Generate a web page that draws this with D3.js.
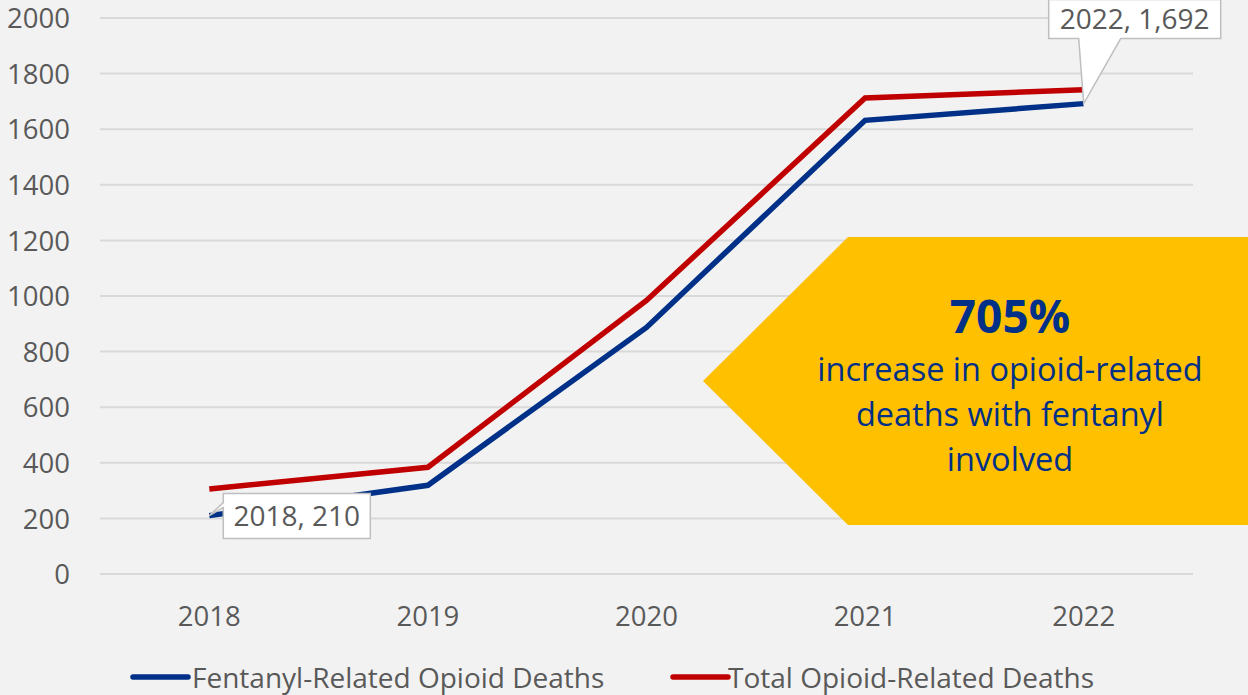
<!DOCTYPE html>
<html><head><meta charset="utf-8">
<script src="https://cdn.jsdelivr.net/npm/d3@7"></script>
<style>html,body{margin:0;padding:0;background:#f2f2f2;}svg{display:block;}</style>
</head><body>
<svg id="c" width="1248" height="695"></svg>
<script>
const years = ["2018","2019","2020","2021","2022"];
const fentanyl = [210, 319, 887, 1632, 1692];
const total = [306, 384, 984, 1712, 1742];
const yTicks = [0,200,400,600,800,1000,1200,1400,1600,1800,2000];
const seriesNames = ["Fentanyl-Related Opioid Deaths","Total Opioid-Related Deaths"];
const seriesColors = ["#003087","#C00000"];
const calloutBig = "705%";
const calloutLines = ["increase in opioid-related","deaths with fentanyl","involved"];

const svg = d3.select("#c");
const W = 1248, H = 695;
const FONT = "'Open Sans', sans-serif";
const TXT = "#595959";
svg.append("rect").attr("width",W).attr("height",H).attr("fill","#f2f2f2");

const x = d3.scaleBand().domain(years).range([100,1193]).padding(0);
const xc = d => x(d) + x.bandwidth()/2;
const y = d3.scaleLinear().domain([0,2000]).range([574,18]);

// gridlines
svg.append("g").selectAll("line").data(yTicks).join("line")
  .attr("x1",100).attr("x2",1193).attr("y1",d=>y(d)).attr("y2",d=>y(d))
  .attr("stroke","#d9d9d9").attr("stroke-width",2);

// y axis labels
const yAxis = d3.axisLeft(y).tickValues(yTicks).tickSize(0).tickPadding(0).tickFormat(d3.format("d"));
const gy = svg.append("g").attr("transform","translate(70,0)").call(yAxis);
gy.select(".domain").remove();
gy.selectAll("text").attr("font-family",FONT).attr("font-size",27.5).attr("fill",TXT).attr("dy","0.35em");

// x axis labels
const xAxis = d3.axisBottom(x).tickSize(0).tickPadding(0);
const gx = svg.append("g").attr("transform","translate(0,604)").call(xAxis);
gx.select(".domain").remove();
gx.selectAll("text").attr("font-family",FONT).attr("font-size",27.5).attr("fill",TXT).attr("dy","0.8em");

// callout shape
const cb = {l:703, t:237, b:525, c:848};
svg.append("path")
  .attr("d",`M${cb.l},${(cb.t+cb.b)/2} L${cb.c},${cb.t} L${W},${cb.t} L${W},${cb.b} L${cb.c},${cb.b} Z`)
  .attr("fill","#FFC000");
const ctx = 1010;
svg.append("text").attr("x",ctx).attr("y",333).attr("text-anchor","middle")
  .attr("font-family",FONT).attr("font-weight","bold").attr("font-size",46).attr("fill","#003087").text(calloutBig);
calloutLines.forEach((t,i)=>{
  svg.append("text").attr("x",ctx).attr("y",381+i*45).attr("text-anchor","middle")
    .attr("font-family",FONT).attr("font-size",32.5).attr("fill","#003087").text(t);
});

// lines
const line = d3.line().x((d,i)=>xc(years[i])).y(d=>y(d));
[fentanyl,total].forEach((s,k)=>{
  svg.append("path").datum(s).attr("d",line).attr("fill","none")
    .attr("stroke",seriesColors[k]).attr("stroke-width",5.5).attr("stroke-linejoin","miter");
});

// data labels
function label(idx, dx, dy, w, h, ptr){
  const px = xc(years[idx]), py = y(fentanyl[idx]);
  const bx = px+dx, by = py+dy;
  const g = svg.append("g");
  let p;
  if(ptr==="left"){
    p = `M${bx},${by} L${bx+w},${by} L${bx+w},${by+h} L${bx},${by+h} L${bx},${by+14} L${px},${py} L${bx},${by+9} Z`;
  } else {
    p = `M${bx},${by} L${bx+w},${by} L${bx+w},${by+h} L${bx+72},${by+h} L${px},${py} L${bx+30},${by+h} L${bx},${by+h} Z`;
  }
  g.append("path").attr("d",p).attr("fill","#ffffff").attr("stroke","#bfbfbf").attr("stroke-width",1.5);
  g.append("text").attr("x",bx+w/2).attr("y",by+h/2).attr("dy","0.35em").attr("text-anchor","middle")
    .attr("font-family",FONT).attr("font-size",28).attr("fill",TXT)
    .text(years[idx]+", "+d3.format(",")(fentanyl[idx]));
}
label(0, 14, -22, 147, 45, "left");
label(4, -35, -104, 172, 39, "down");

// legend
const leg = [{x:133,tx:192},{x:673,tx:728}];
leg.forEach((l,k)=>{
  svg.append("line").attr("x1",l.x).attr("x2",l.x+55).attr("y1",677).attr("y2",677)
    .attr("stroke",seriesColors[k]).attr("stroke-width",5.5).attr("stroke-linecap","round");
  svg.append("text").attr("x",l.tx).attr("y",678).attr("dy","0.35em")
    .attr("font-family",FONT).attr("font-size",28).attr("fill",TXT).text(seriesNames[k]);
});
</script>
</body></html>
